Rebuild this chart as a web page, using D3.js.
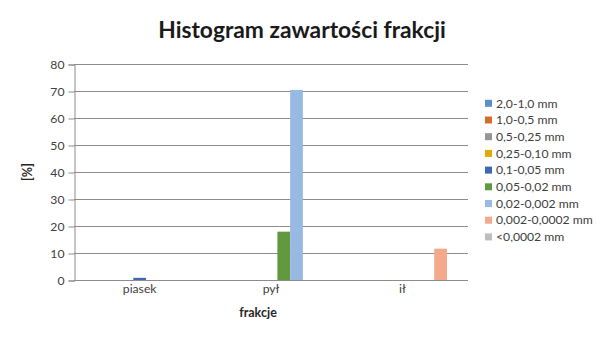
<!DOCTYPE html>
<html>
<head>
<meta charset="utf-8">
<script src="https://cdn.jsdelivr.net/npm/d3@7"></script>
<style>
  body { margin: 0; background: #fff; }
  svg { font-family: Lato, "Open Sans", sans-serif; }
</style>
</head>
<body>
<svg id="chart" width="605" height="340"></svg>
<script>
// categories on x
var categories = ['piasek', 'pył', 'ił'];
// series = size fractions
var seriesNames = ['2,0-1,0 mm', '1,0-0,5 mm', '0,5-0,25 mm', '0,25-0,10 mm', '0,1-0,05 mm',
  '0,05-0,02 mm', '0,02-0,002 mm', '0,002-0,0002 mm', '<0,0002 mm'];
var seriesColors = ['#5A8FC8', '#D96C2B', '#959595', '#E2A900', '#4167B0',
  '#62993E', '#98B9E2', '#F2A98C', '#BEBEBE'];
// values per series, one per category
var piasekValues = [0, 0, 0, 0, 0.8, 0, 0, 0, 0];
var pylValues = [0, 0, 0, 0, 0, 17.9, 70.4, 0, 0];
var ilValues = [0, 0, 0, 0, 0, 0, 0, 11.6, 0];
var yTicks = [0, 10, 20, 30, 40, 50, 60, 70, 80];

var table = [piasekValues, pylValues, ilValues].map(function(vals, i) {
  return { cat: categories[i], values: vals };
});

var svg = d3.select('#chart');
// plot area ("top" is taken by window.top, so use other names)
var plotLeft = 74, plotRight = 468, plotTop = 64, plotBottom = 280;

var x0 = d3.scaleBand().domain(categories).range([plotLeft, plotRight])
  .paddingInner(0.126).paddingOuter(0.063);
var x1 = d3.scaleBand().domain(d3.range(seriesNames.length)).range([0, x0.bandwidth()]);
var y = d3.scaleLinear().domain([0, 80]).range([plotBottom, plotTop]);

// title
svg.append('text')
  .attr('x', 302).attr('y', 38)
  .attr('text-anchor', 'middle')
  .style('font-size', '22.8px').style('font-weight', 'bold').style('fill', '#1a1a1a')
  .text('Histogram zawartości frakcji');

// grid lines
svg.append('g').selectAll('line')
  .data(yTicks.slice(1))
  .enter().append('line')
  .attr('x1', plotLeft).attr('x2', plotRight)
  .attr('y1', function(d) { return Math.round(y(d)) + 0.5; })
  .attr('y2', function(d) { return Math.round(y(d)) + 0.5; })
  .attr('stroke', '#8c8c8c').attr('stroke-width', 1);

// y axis
var yAxis = svg.append('g')
  .attr('transform', 'translate(' + (plotLeft + 0.5) + ',0.5)')
  .call(d3.axisLeft(y).tickValues(yTicks).tickSize(6).tickPadding(4));
yAxis.select('.domain').attr('stroke', '#8c8c8c');
yAxis.selectAll('.tick line').attr('stroke', '#8c8c8c');
yAxis.selectAll('text').style('font-size', '12.2px').style('fill', '#404040')
  .style('font-family', 'Lato, sans-serif');

// bars
var groups = svg.append('g').selectAll('g')
  .data(table)
  .enter().append('g')
  .attr('transform', function(d) { return 'translate(' + x0(d.cat) + ',0)'; });

groups.selectAll('rect')
  .data(function(d) { return d.values.map(function(v, i) { return { i: i, v: v }; }); })
  .enter().append('rect')
  .attr('x', function(d) { return x1(d.i); })
  .attr('width', x1.bandwidth())
  .attr('y', function(d) { return y(d.v); })
  .attr('height', function(d) { return plotBottom - y(d.v); })
  .attr('fill', function(d) { return seriesColors[d.i]; });

// x axis
var xAxis = svg.append('g')
  .attr('transform', 'translate(0,' + (plotBottom + 0.5) + ')')
  .call(d3.axisBottom(x0).tickSize(0).tickPadding(4));
xAxis.select('.domain').attr('stroke', '#8c8c8c').attr('d', 'M' + plotLeft + ',0H' + plotRight);
xAxis.selectAll('text').style('font-size', '12.2px').style('fill', '#404040')
  .style('font-family', 'Lato, sans-serif');

// axis titles
svg.append('text')
  .attr('x', 258).attr('y', 317)
  .attr('text-anchor', 'middle')
  .style('font-size', '12.5px').style('font-weight', 'bold').style('fill', '#262626')
  .text('frakcje');

svg.append('text')
  .attr('transform', 'translate(32,172) rotate(-90)')
  .attr('text-anchor', 'middle')
  .style('font-size', '12.5px').style('font-weight', 'bold').style('fill', '#262626')
  .text('[%]');

// legend
var legend = svg.append('g').selectAll('g')
  .data(seriesNames)
  .enter().append('g')
  .attr('transform', function(d, i) { return 'translate(485,' + (103.3 + i * 16.7) + ')'; });

legend.append('rect')
  .attr('x', 0).attr('y', -3.5)
  .attr('width', 7).attr('height', 7)
  .attr('fill', function(d, i) { return seriesColors[i]; });

legend.append('text')
  .attr('x', 11).attr('y', 4.2)
  .style('font-size', '12.2px').style('fill', '#404040')
  .text(function(d) { return d; });
</script>
</body>
</html>
